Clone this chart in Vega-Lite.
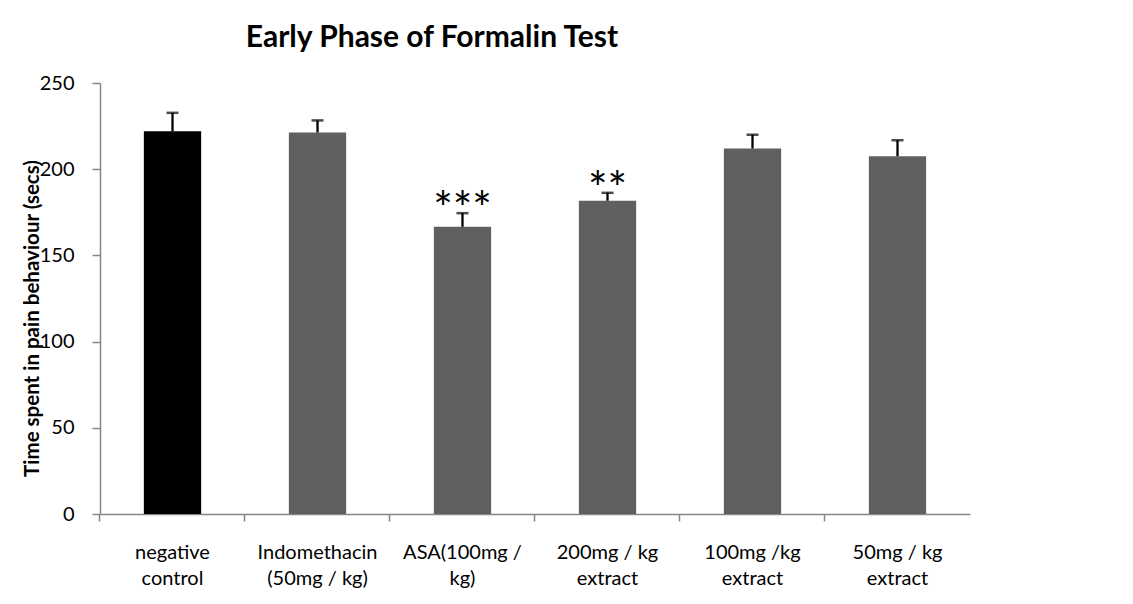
{
  "$schema": "https://vega.github.io/schema/vega-lite/v6.json",
  "autosize": "none",
  "width": 870,
  "height": 431,
  "padding": {"left": 100, "top": 83, "right": 163, "bottom": 90},
  "background": "white",
  "config": {
    "font": "Lato",
    "view": {"stroke": null},
    "axis": {"grid": false, "domainColor": "#868686", "tickColor": "#868686", "domainWidth": 1.5, "tickWidth": 1.5, "labelColor": "#000000", "labelFont": "Lato"}
  },
  "title": {"text": "Early Phase of Formalin Test", "fontSize": 30, "fontWeight": "bold", "font": "Lato", "color": "#000000", "anchor": "middle", "dx": -103, "offset": 20},
  "data": {"values": [
    {"treatment": "negative\ncontrol", "group": "control", "mean": 222, "err": 10.7, "sig": ""},
    {"treatment": "Indomethacin\n(50mg / kg)", "group": "treated", "mean": 221.3, "err": 7, "sig": ""},
    {"treatment": "ASA(100mg /\nkg)", "group": "treated", "mean": 166.6, "err": 7.9, "sig": "***"},
    {"treatment": "200mg / kg\nextract", "group": "treated", "mean": 181.7, "err": 4.6, "sig": "**"},
    {"treatment": "100mg /kg\nextract", "group": "treated", "mean": 212, "err": 8, "sig": ""},
    {"treatment": "50mg / kg\nextract", "group": "treated", "mean": 207.5, "err": 9.3, "sig": ""}
  ]},
  "transform": [{"calculate": "datum.mean + datum.err", "as": "upper"}],
  "encoding": {
    "x": {"field": "treatment", "type": "nominal", "sort": null,
      "scale": {"paddingInner": 0.605, "paddingOuter": 0.3025},
      "axis": {"title": null, "labelAngle": 0, "labelExpr": "split(datum.label, '\\n')", "labelFontSize": 20, "labelLineHeight": 26, "tickSize": 7, "labelPadding": 21, "bandPosition": -0.766}}
  },
  "layer": [
    {
      "mark": {"type": "bar"},
      "encoding": {
        "y": {"field": "mean", "type": "quantitative",
          "scale": {"domain": [0, 250], "nice": false},
          "axis": {"title": "Time spent in pain behaviour (secs)", "values": [0, 50, 100, 150, 200, 250], "labelFontSize": 20, "tickSize": 8, "labelPadding": 18, "titleFontSize": 20.5, "titleFontWeight": "bold", "titleColor": "#000000", "titleX": -68, "titleY": 235, "titleAngle": -90, "titleAlign": "center", "titleBaseline": "middle"}},
        "color": {"field": "group", "type": "nominal", "scale": {"domain": ["control", "treated"], "range": ["#000000", "#606060"]}, "legend": null}
      }
    },
    {
      "mark": {"type": "rule", "color": "#000000", "strokeWidth": 2.3},
      "encoding": {"y": {"field": "mean", "type": "quantitative"}, "y2": {"field": "upper"}}
    },
    {
      "mark": {"type": "tick", "color": "#000000", "thickness": 2.5, "size": 12, "orient": "horizontal"},
      "encoding": {"y": {"field": "upper", "type": "quantitative"}}
    },
    {
      "mark": {"type": "text", "fontSize": 46, "font": "Lato", "color": "#000000", "baseline": "alphabetic", "dy": 12},
      "encoding": {"y": {"field": "upper", "type": "quantitative"}, "text": {"field": "sig"}}
    }
  ]
}
